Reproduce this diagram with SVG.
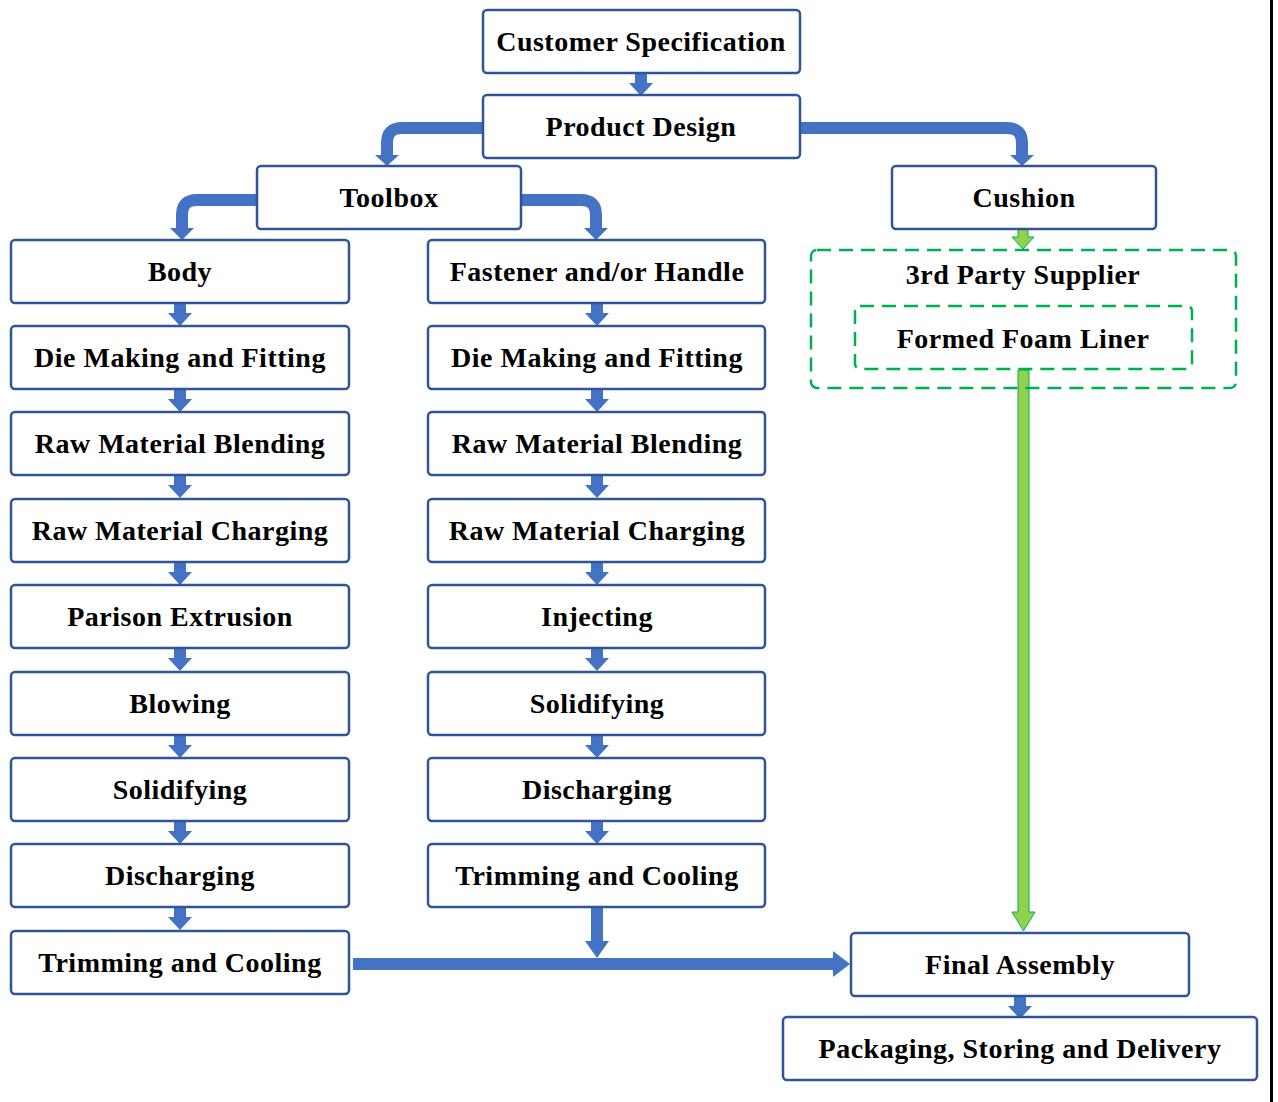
<svg xmlns="http://www.w3.org/2000/svg" xmlns:xlink="http://www.w3.org/1999/xlink" width="1278" height="1102" viewBox="0 0 1278 1102">
<style>
.box{fill:#fff;stroke:#2F5597;stroke-width:2.5}
.dash{fill:none;stroke:#00B050;stroke-width:2.5;stroke-dasharray:14 8}
.t{font-family:"Liberation Serif","Times New Roman",serif;font-weight:bold;font-size:28px;letter-spacing:0.5px;fill:#000;text-anchor:middle}
.a{fill:#4472C4}
.ln{fill:none;stroke:#4472C4;stroke-width:12}
.g{fill:#92D050;stroke:#00B050;stroke-width:1}
</style>
<defs>
<path id="sa" d="M-6,0 H6 V10 H12 L0,23 L-12,10 H-6 Z"/>
</defs>
<rect x="0" y="0" width="1278" height="1102" fill="#fff"/>
<rect x="1270" y="0" width="3" height="1102" fill="#000"/>

<g id="connectors">
  <use xlink:href="#sa" class="a" x="641" y="73"/>
  <path class="ln" d="M483,128 H402 Q387,128 387,143 V156"/>
  <path class="a" d="M375,155 H399 L387,166 Z"/>
  <path class="ln" d="M800,128 H1007 Q1022,128 1022,143 V156"/>
  <path class="a" d="M1010,155 H1034 L1022,166 Z"/>
  <path class="ln" d="M257,200 H197 Q182,200 182,215 V229"/>
  <path class="a" d="M170,228 H194 L182,240 Z"/>
  <path class="ln" d="M521,200 H581 Q596,200 596,215 V229"/>
  <path class="a" d="M584,228 H608 L596,240 Z"/>
  <use xlink:href="#sa" class="a" x="180" y="303"/>
  <use xlink:href="#sa" class="a" x="180" y="389"/>
  <use xlink:href="#sa" class="a" x="180" y="475"/>
  <use xlink:href="#sa" class="a" x="180" y="562"/>
  <use xlink:href="#sa" class="a" x="180" y="648"/>
  <use xlink:href="#sa" class="a" x="180" y="735"/>
  <use xlink:href="#sa" class="a" x="180" y="821"/>
  <use xlink:href="#sa" class="a" x="180" y="907"/>
  <use xlink:href="#sa" class="a" x="597" y="303"/>
  <use xlink:href="#sa" class="a" x="597" y="389"/>
  <use xlink:href="#sa" class="a" x="597" y="475"/>
  <use xlink:href="#sa" class="a" x="597" y="562"/>
  <use xlink:href="#sa" class="a" x="597" y="648"/>
  <use xlink:href="#sa" class="a" x="597" y="735"/>
  <use xlink:href="#sa" class="a" x="597" y="821"/>
  <path class="a" d="M353,958 H833 V951 L850,964 L833,977 V970 H353 Z"/>
  <path class="a" d="M591,908 H603 V941 H609 L597,958 L585,941 H591 Z"/>
  <use xlink:href="#sa" class="a" x="1020" y="996"/>
  <path class="g" d="M1018,229 H1028 V237 H1034 L1023,249 L1012,237 H1018 Z"/>
  <path class="g" d="M1018,370 H1029 V912 H1035 L1023.5,931 L1012,912 H1018 Z"/>
</g>

<g id="customer-spec"><rect class="box" x="483" y="10" width="317" height="63" rx="4"/><text class="t" x="641" y="51">Customer Specification</text></g>
<g id="product-design"><rect class="box" x="483" y="95" width="317" height="63" rx="4"/><text class="t" x="641" y="136">Product Design</text></g>
<g id="toolbox"><rect class="box" x="257" y="166" width="264" height="63" rx="4"/><text class="t" x="389" y="207">Toolbox</text></g>
<g id="cushion"><rect class="box" x="892" y="166" width="264" height="63" rx="4"/><text class="t" x="1024" y="207">Cushion</text></g>

<g id="third-party"><rect class="dash" x="811" y="250" width="425" height="138" rx="6"/><text class="t" x="1023" y="284">3rd Party Supplier</text></g>
<g id="foam-liner"><rect class="dash" x="855" y="306" width="337" height="63" rx="5"/><text class="t" x="1023" y="348">Formed Foam Liner</text></g>

<g id="body"><rect class="box" x="11" y="240" width="338" height="63" rx="4"/><text class="t" x="180" y="281">Body</text></g>
<g id="l-die"><rect class="box" x="11" y="326" width="338" height="63" rx="4"/><text class="t" x="180" y="367">Die Making and Fitting</text></g>
<g id="l-blend"><rect class="box" x="11" y="412" width="338" height="63" rx="4"/><text class="t" x="180" y="453">Raw Material Blending</text></g>
<g id="l-charge"><rect class="box" x="11" y="499" width="338" height="63" rx="4"/><text class="t" x="180" y="540">Raw Material Charging</text></g>
<g id="l-parison"><rect class="box" x="11" y="585" width="338" height="63" rx="4"/><text class="t" x="180" y="626">Parison Extrusion</text></g>
<g id="l-blow"><rect class="box" x="11" y="672" width="338" height="63" rx="4"/><text class="t" x="180" y="713">Blowing</text></g>
<g id="l-solid"><rect class="box" x="11" y="758" width="338" height="63" rx="4"/><text class="t" x="180" y="799">Solidifying</text></g>
<g id="l-disch"><rect class="box" x="11" y="844" width="338" height="63" rx="4"/><text class="t" x="180" y="885">Discharging</text></g>
<g id="l-trim"><rect class="box" x="11" y="931" width="338" height="63" rx="4"/><text class="t" x="180" y="972">Trimming and Cooling</text></g>

<g id="fastener"><rect class="box" x="428" y="240" width="337" height="63" rx="4"/><text class="t" x="597" y="281">Fastener and/or Handle</text></g>
<g id="m-die"><rect class="box" x="428" y="326" width="337" height="63" rx="4"/><text class="t" x="597" y="367">Die Making and Fitting</text></g>
<g id="m-blend"><rect class="box" x="428" y="412" width="337" height="63" rx="4"/><text class="t" x="597" y="453">Raw Material Blending</text></g>
<g id="m-charge"><rect class="box" x="428" y="499" width="337" height="63" rx="4"/><text class="t" x="597" y="540">Raw Material Charging</text></g>
<g id="m-inject"><rect class="box" x="428" y="585" width="337" height="63" rx="4"/><text class="t" x="597" y="626">Injecting</text></g>
<g id="m-solid"><rect class="box" x="428" y="672" width="337" height="63" rx="4"/><text class="t" x="597" y="713">Solidifying</text></g>
<g id="m-disch"><rect class="box" x="428" y="758" width="337" height="63" rx="4"/><text class="t" x="597" y="799">Discharging</text></g>
<g id="m-trim"><rect class="box" x="428" y="844" width="337" height="63" rx="4"/><text class="t" x="597" y="885">Trimming and Cooling</text></g>

<g id="final-assembly"><rect class="box" x="851" y="933" width="338" height="63" rx="4"/><text class="t" x="1020" y="974">Final Assembly</text></g>
<g id="packaging"><rect class="box" x="783" y="1017" width="474" height="63" rx="4"/><text class="t" x="1020" y="1058">Packaging, Storing and Delivery</text></g>
</svg>
